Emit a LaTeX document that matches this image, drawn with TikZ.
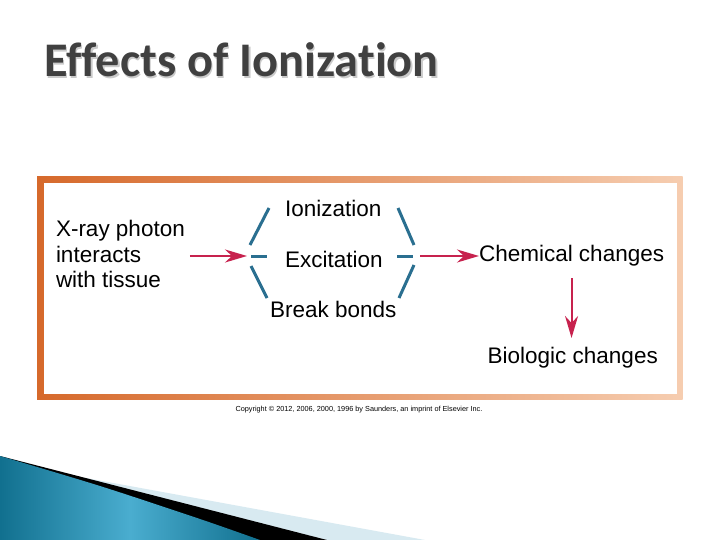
\documentclass[tikz,border=0pt]{standalone}
\usepackage{fontspec}
\setmainfont{Liberation Sans}
\newfontfamily\titlefont[Ligatures={NoCommon,NoDiscretionary,NoRare}]{Carlito}
\usepackage{xcolor}
\usetikzlibrary{arrows.meta}
\definecolor{TitleGray}{HTML}{404040}
\definecolor{ShadowGray}{HTML}{CACACA}
\definecolor{FrameDark}{HTML}{D6692B}
\definecolor{FrameLight}{HTML}{F6CDB0}
\definecolor{ArrowRed}{HTML}{C7224E}
\definecolor{BracketBlue}{HTML}{2A6F90}
\definecolor{SwooshDark}{HTML}{11708F}
\definecolor{SwooshLight}{HTML}{4AADCF}
\definecolor{SwooshPale}{HTML}{D8EAF1}

\begin{document}
\begin{tikzpicture}[x=1pt, y=-1pt,
      every node/.append style={inner sep=0pt, outer sep=0pt},
      term/.style={font=\fontsize{22.5}{25.7}\selectfont, text=black, anchor=base west},
      heading/.style={font=\titlefont\bfseries\fontsize{48.3}{50}\selectfont, anchor=base west},
      flow/.style={-{Stealth[length=22pt, width=13pt, inset=7pt]}, color=ArrowRed, line width=2pt},
      brk/.style={draw=BracketBlue, line width=3pt}]
	  \useasboundingbox (0,0) rectangle (720,540);
	  \fill[white] (0,0) rectangle (720,540);
	  % slide decoration
	  \fill[SwooshPale] (75,476) -- (425,540) -- (327,540) -- cycle;
	  \fill[black] (0,456) -- (327,540) -- (0,540) -- cycle;
	  \shade[left color=SwooshDark, right color=SwooshDark, middle color=SwooshLight]
	    plot[smooth] coordinates {(0,456) (100,486) (200,519) (260,540)} -- (0,540) -- cycle;
	  % title
	  \node[heading, text=ShadowGray] (titleshade) at (45.5,78.2) {Effects of Ionization};
	  \node[heading, text=TitleGray] (title) at (44,76.7) {Effects of Ionization};
	  % frame
	  \shade[left color=FrameDark, right color=FrameLight] (37,177) rectangle (682.5,399);
	  \fill[white] (44,183) rectangle (677,394);
	  \node[font=\fontsize{7.3}{8}\selectfont, anchor=base] (copy) at (359,411.7)
	    {Copyright © 2012, 2006, 2000, 1996 by Saunders, an imprint of Elsevier Inc.};
	  % diagram
	  \node[term, align=left, anchor=north west] (xray) at (56,220) {X-ray photon\\interacts\\with tissue};
	  \node[term] (ioniz) at (285,216.7) {Ionization};
	  \node[term] (excit) at (285,267.3) {Excitation};
	  \node[term] (bonds) at (270,317.7) {Break bonds};
	  \node[term] (chem) at (479,261.5) {Chemical changes};
	  \node[term] (bio) at (487.7,363.3) {Biologic changes};
	  \coordinate (lbrk) at (247,256);
	  \coordinate (rbrk) at (420,256);
	  \draw[brk] (250,245) -- (269,208);
	  \draw[brk] (251,256) -- (267,256);
	  \draw[brk] (251,266) -- (267,298);
	  \draw[brk] (398,208) -- (414,245);
	  \draw[brk] (397,256) -- (413,256);
	  \draw[brk] (414,265) -- (399,298);
	  \draw[flow, shorten <=5pt] (xray.east |- lbrk) -- (lbrk);
	  \draw[flow] (rbrk) -- (chem.west |- rbrk);
	  \draw[flow] ([yshift=-12pt]chem.south) -- ([yshift=9pt]chem.south |- bio.north);
\end{tikzpicture}
\end{document}
